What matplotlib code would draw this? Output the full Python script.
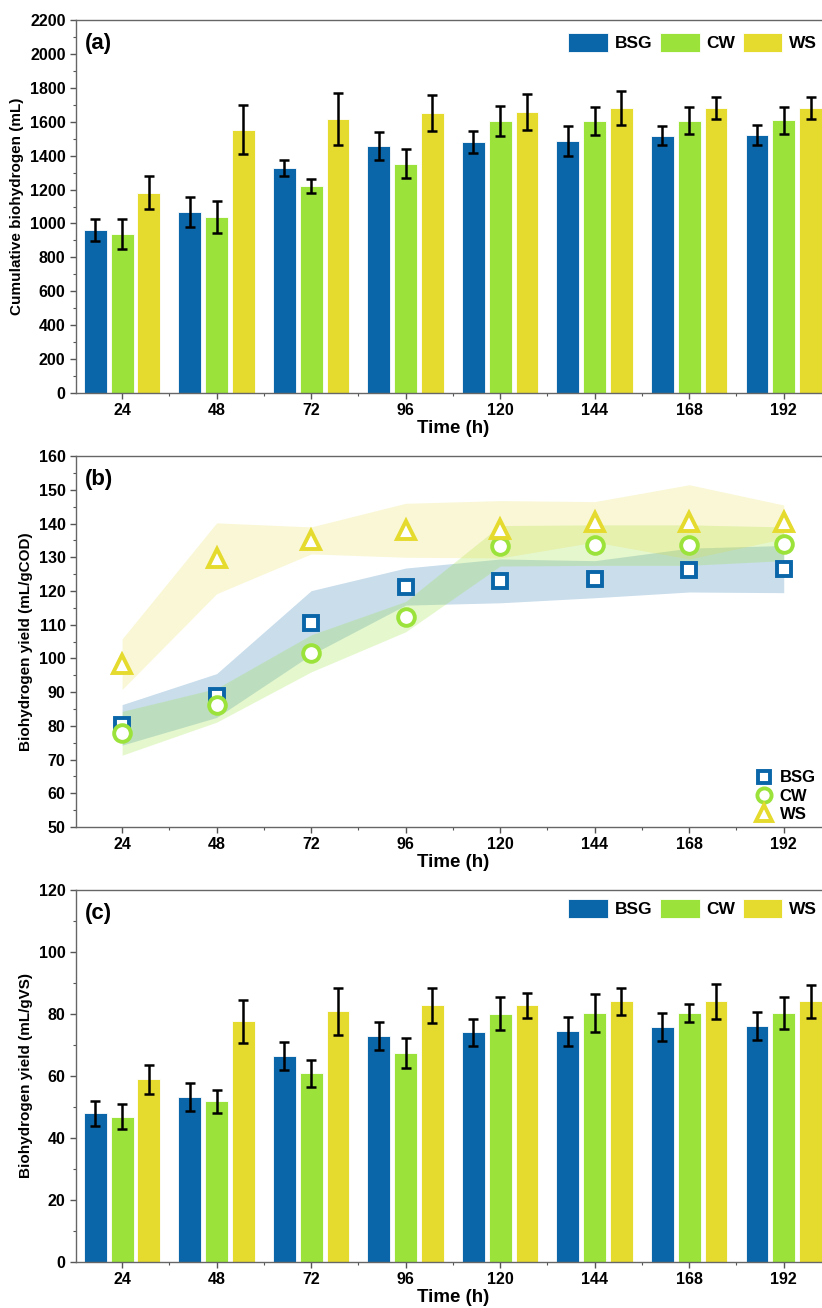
import numpy as np
import matplotlib.pyplot as plt
from matplotlib.ticker import MultipleLocator

plt.rcParams['font.family'] = ['Liberation Sans', 'DejaVu Sans']
plt.rcParams['font.weight'] = 'bold'

# time points (h)
time_h = [24, 48, 72, 96, 120, 144, 168, 192]
substrates = ['BSG', 'CW', 'WS']
colors = {'BSG': '#0A66A8', 'CW': '#9BE33A', 'WS': '#E5DA2E'}

# (a) cumulative biohydrogen (mL)
cum_bsg = [962, 1069, 1329, 1457, 1481, 1487, 1518, 1520]
cum_cw = [939, 1039, 1221, 1353, 1605, 1605, 1607, 1609]
cum_ws = [1181, 1554, 1617, 1653, 1657, 1682, 1682, 1682]
cum_bsg_err = [65, 90, 47, 80, 67, 90, 54, 58]
cum_cw_err = [87, 95, 43, 85, 87, 83, 81, 79]
cum_ws_err = [98, 144, 155, 105, 108, 100, 65, 65]

# (b) biohydrogen yield (mL/gCOD)
cod_bsg = [80.3, 89.0, 110.6, 121.3, 123.0, 123.5, 126.2, 126.5]
cod_cw = [77.8, 86.1, 101.5, 112.4, 133.4, 133.6, 133.6, 134.0]
cod_ws = [98.3, 129.7, 135.0, 138.0, 138.3, 140.5, 140.5, 140.5]
cod_bsg_err = [6.0, 6.5, 9.5, 5.5, 6.5, 5.5, 6.5, 7.0]
cod_cw_err = [6.5, 5.0, 5.5, 4.5, 6.0, 6.0, 6.0, 5.0]
cod_ws_err = [7.5, 10.5, 4.0, 8.0, 8.5, 6.0, 11.0, 5.0]

# (c) biohydrogen yield (mL/gVS)
vs_bsg = [47.9, 53.3, 66.4, 72.9, 74.1, 74.4, 75.9, 76.1]
vs_cw = [46.8, 51.8, 60.8, 67.5, 80.1, 80.3, 80.3, 80.3]
vs_ws = [58.9, 77.6, 80.9, 82.8, 82.8, 84.1, 84.1, 84.1]
vs_bsg_err = [4.0, 4.5, 4.4, 4.4, 4.4, 4.6, 4.5, 4.4]
vs_cw_err = [4.0, 3.6, 4.3, 4.8, 5.3, 6.0, 2.9, 5.2]
vs_ws_err = [4.6, 7.0, 7.6, 5.6, 4.1, 4.3, 5.6, 5.4]

fig = plt.figure(figsize=(8.22, 13.08), dpi=100)
left, width = 0.0925, 0.917
ax_a = fig.add_axes([left, 0.6995, width, 0.2852])
ax_b = fig.add_axes([left, 0.3677, width, 0.2836])
ax_c = fig.add_axes([left, 0.0352, width, 0.2844])

x = np.array(time_h, dtype=float)
bar_w = 5.8
offset = 6.8
# right edge of the visible picture, in axes fraction (axes run past it)
vis_right = 0.988


def style_axes(ax, ymax, major, minor, ylabel, tag, ymin=0):
    ax.set_xlim(12.3, 203.7)
    ax.set_ylim(ymin, ymax)
    ax.set_xticks(time_h)
    ax.set_xticks([t + 12 for t in time_h[:-1]], minor=True)
    ax.yaxis.set_major_locator(MultipleLocator(major))
    ax.yaxis.set_minor_locator(MultipleLocator(minor))
    ax.tick_params(axis='both', which='major', direction='out', length=4,
                   width=1, color='#555555', labelsize=11.5)
    ax.tick_params(axis='both', which='minor', direction='out', length=2.5,
                   width=0.8, color='#555555')
    for lab in ax.get_xticklabels() + ax.get_yticklabels():
        lab.set_fontweight('bold')
    for s in ['left', 'bottom', 'top', 'right']:
        ax.spines[s].set_color('#666666')
        ax.spines[s].set_linewidth(1.0)
    ax.set_xlabel('Time (h)', fontsize=13.5, fontweight='bold', labelpad=1)
    ax.set_ylabel(ylabel, fontsize=11, fontweight='bold', labelpad=4)
    ax.text(0.012, 0.965, tag, transform=ax.transAxes, fontsize=16,
            fontweight='bold', va='top', ha='left')


def bar_panel(ax, series, errs, legend_y):
    for i, (name, vals, err) in enumerate(zip(substrates, series, errs)):
        ax.bar(x + (i - 1) * offset, vals, width=bar_w, color=colors[name],
               edgecolor='white', linewidth=0.6, label=name, zorder=2)
        ax.errorbar(x + (i - 1) * offset, vals, yerr=err, fmt='none',
                    ecolor='black', elinewidth=1.8, capsize=3.5,
                    capthick=1.8, zorder=3)
    ax.legend(loc='upper right', ncol=3, frameon=False, fontsize=12.5,
              handlelength=2.3, handleheight=1.3, handletextpad=0.4,
              columnspacing=0.4, bbox_to_anchor=(vis_right, legend_y),
              borderaxespad=0.0, borderpad=0.2)


bar_panel(ax_a, [cum_bsg, cum_cw, cum_ws], [cum_bsg_err, cum_cw_err, cum_ws_err], 0.975)
style_axes(ax_a, 2200, 200, 100, 'Cumulative biohydrogen (mL)', '(a)')

bar_panel(ax_c, [vs_bsg, vs_cw, vs_ws], [vs_bsg_err, vs_cw_err, vs_ws_err], 0.985)
style_axes(ax_c, 120, 20, 10, 'Biohydrogen yield (mL/gVS)', '(c)')

# (b) scatter with shaded error bands
markers = {'BSG': 's', 'CW': 'o', 'WS': '^'}
msizes = {'BSG': 10, 'CW': 12, 'WS': 13}
band_alpha = {'BSG': 0.22, 'CW': 0.25, 'WS': 0.2}
for name, vals, err in zip(substrates, [cod_bsg, cod_cw, cod_ws],
                           [cod_bsg_err, cod_cw_err, cod_ws_err]):
    v = np.array(vals)
    e = np.array(err)
    ax_b.fill_between(x, v - e, v + e, color=colors[name],
                      alpha=band_alpha[name], linewidth=0, zorder=1)
for name, vals in zip(substrates, [cod_bsg, cod_cw, cod_ws]):
    ax_b.plot(x, vals, linestyle='none', marker=markers[name],
              markersize=msizes[name], markerfacecolor='white',
              markeredgecolor=colors[name], markeredgewidth=2.8,
              label=name, zorder=3)
ax_b.legend(loc='lower right', frameon=False, fontsize=12,
            handletextpad=0.3, labelspacing=0.2, markerscale=0.85,
            bbox_to_anchor=(vis_right, 0.0), borderaxespad=0.1,
            borderpad=0.2, handlelength=1.3)
style_axes(ax_b, 160, 10, 5, 'Biohydrogen yield (mL/gCOD)', '(b)', ymin=50)

fig.savefig('out.png', dpi=100)
